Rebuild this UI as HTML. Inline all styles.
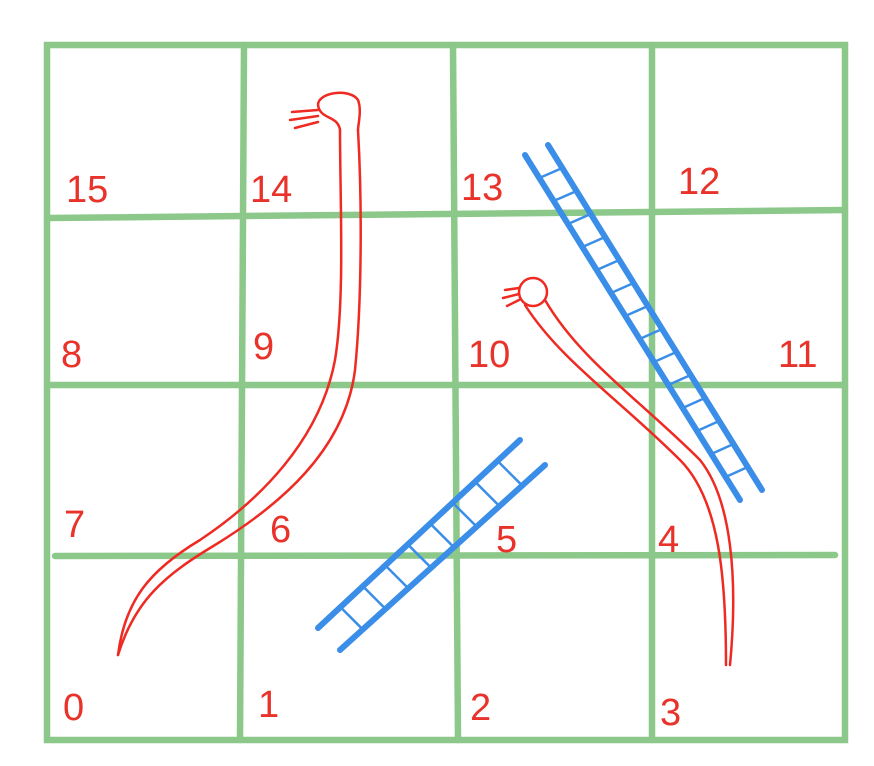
<!DOCTYPE html>
<html><head><meta charset="utf-8"><style>
html,body{margin:0;padding:0;background:#fff;}
svg{display:block}
text{font-family:"Liberation Sans",sans-serif;fill:#e8322a;font-size:38px;}
</style></head><body>
<svg id="s" width="874" height="766" viewBox="0 0 874 766">
<g stroke="#8cc88a" stroke-width="6.5" fill="none" stroke-linecap="round">
<path d="M47,45 L845,45 L845,740 L47,740 Z"/>
<path d="M244,45 L240,740"/>
<path d="M453,45 L458,740"/>
<path d="M652,45 L652,740"/>
<path d="M47,218 L845,210"/>
<path d="M47,385 L845,385"/>
<path d="M55,556 L835,555"/>
</g>
<g>
<text x="63" y="720">0</text>
<text x="258" y="717">1</text>
<text x="470" y="720">2</text>
<text x="660" y="725">3</text>
<text x="658" y="552">4</text>
<text x="496" y="552">5</text>
<text x="270" y="542">6</text>
<text x="64" y="537">7</text>
<text x="61" y="367">8</text>
<text x="253" y="359">9</text>
<text x="468" y="367">10</text>
<text x="778" y="367">11</text>
<text x="678" y="194">12</text>
<text x="461" y="200">13</text>
<text x="250" y="202">14</text>
<text x="66" y="202">15</text>
</g>
<g stroke="#ee2a22" stroke-width="2.5" fill="none" stroke-linecap="round">
<path d="M118,655 C125,600 150,570 200,540 C260,500 320,440 335,360 C345,300 340,200 340,130"/>
<path d="M118,655 C135,600 165,575 215,545 C280,505 345,450 355,370 C362,300 362,200 358,130"/>
<path d="M340,130 C338,115 320,120 318,105 C318,92 350,88 358,100 C362,110 358,125 358,130"/>
<path d="M318,110 L292,112 M318,116 L290,120 M318,122 L295,128"/>
</g>
<g stroke="#ee2a22" stroke-width="2.5" fill="none" stroke-linecap="round">
<circle cx="533" cy="292" r="14"/>
<path d="M525,305 C560,360 620,400 680,460 C720,500 726,580 726,665"/>
<path d="M545,300 C580,360 640,400 700,460 C732,500 738,580 730,665"/>
<path d="M519,288 L505,290 M519,294 L503,298 M519,300 L507,306"/>
</g>
<g id="ladders" stroke="#3a8ee8" stroke-width="6" stroke-linecap="round" fill="none"></g>
</svg>
<script>
const ladderNames=['ladder-1-to-5','ladder-4-to-13'];
const rails=[[[318,628,520,440],[340,650,545,465]],[[525,155,740,500],[548,145,762,490]]];
const rungCounts=[8,14];
const g=document.getElementById('ladders');
rails.forEach((r,i)=>{
  const grp=document.createElementNS('http://www.w3.org/2000/svg','g');
  
  
  r.forEach(a=>{
    const l=document.createElementNS('http://www.w3.org/2000/svg','line');
    l.setAttribute('x1',a[0]);l.setAttribute('y1',a[1]);l.setAttribute('x2',a[2]);l.setAttribute('y2',a[3]);
    grp.appendChild(l);
  });
  const n=rungCounts[i];
  for(let k=1;k<=n;k++){
    const t=k/(n+1);const A=r[0],B=r[1];
    const l=document.createElementNS('http://www.w3.org/2000/svg','line');
    l.setAttribute('x1',A[0]+(A[2]-A[0])*t);l.setAttribute('y1',A[1]+(A[3]-A[1])*t);
    l.setAttribute('x2',B[0]+(B[2]-B[0])*t);l.setAttribute('y2',B[1]+(B[3]-B[1])*t);
    l.setAttribute('stroke-width','2.5');
    grp.appendChild(l);
  }
  g.appendChild(grp);
});
</script>
</body></html>
